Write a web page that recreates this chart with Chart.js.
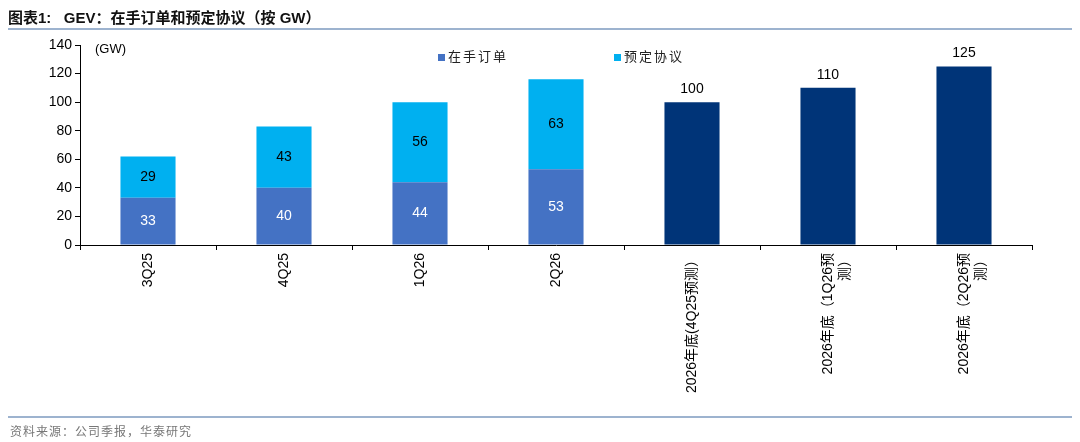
<!DOCTYPE html>
<html><head><meta charset="utf-8">
<script src="https://cdn.jsdelivr.net/npm/chart.js@4"></script>
<style>
body{margin:0;width:1080px;height:442px;position:relative;font-family:"Liberation Sans",Arial,"Noto Sans CJK SC",sans-serif;background:#fff;overflow:hidden}
#c{position:absolute;left:0;top:0}
.t{position:absolute;white-space:nowrap}
</style></head><body>
<canvas id="c" width="1080" height="442"></canvas>
<div class="t" style="left:8px;top:6px;font-size:15px;font-weight:bold;color:#111">图表1:&nbsp;&nbsp; GEV：在手订单和预定协议（按 GW）</div>
<div style="position:absolute;left:8px;right:8px;top:28px;height:2px;background:#9db3cf"></div>
<div class="t" style="left:95px;top:41px;font-size:13px;color:#000">(GW)</div>
<div class="t" style="left:438px;top:46px;font-size:13px;color:#222;letter-spacing:2px"><span style="display:inline-block;width:7px;height:7px;background:#4472C4;margin-right:3px"></span>在手订单</div>
<div class="t" style="left:614px;top:46px;font-size:13px;color:#222;letter-spacing:2px"><span style="display:inline-block;width:7px;height:7px;background:#00B0F0;margin-right:3px"></span>预定协议</div>
<div style="position:absolute;left:8px;right:8px;top:416px;height:2px;background:#9db3cf"></div>
<div class="t" style="left:10px;top:422px;font-size:12px;color:#777;letter-spacing:1px">资料来源：公司季报，华泰研究</div>
<script>
const categories=["3Q25","4Q25","1Q26","2Q26",["2026年底(4Q25预测）"],["2026年底（1Q26预","测）"],["2026年底（2Q26预","测）"]];
const backlog=[33,40,44,53,null,null,null];
const reservations=[29,43,56,63,null,null,null];
const forecast=[null,null,null,null,100,110,125];
const labelPlugin={id:'lbl',afterDatasetsDraw(ch){const c=ch.ctx;c.save();c.font='14px "Liberation Sans",Arial';c.textAlign='center';c.textBaseline='middle';
ch.data.datasets.forEach((ds,i)=>{ch.getDatasetMeta(i).data.forEach((b,j)=>{const v=ds.data[j];if(v==null)return;
if(i===2){c.fillStyle='#000';c.fillText(v,b.x,b.y-13);}else{c.fillStyle=i===0?'#fff':'#000';c.fillText(v,b.x,(b.y+b.base)/2);}});});c.restore();}};
new Chart(document.getElementById('c'),{type:'bar',
data:{labels:categories,datasets:[
{label:'在手订单',data:backlog,backgroundColor:'#4472C4'},
{label:'预定协议',data:reservations,backgroundColor:'#00B0F0'},
{label:'预测',data:forecast,backgroundColor:'#003478'}]},
options:{responsive:false,animation:false,barPercentage:0.405,categoryPercentage:1,
layout:{padding:{top:45,right:48,left:0,bottom:0}},
plugins:{legend:{display:false},tooltip:{enabled:false}},
scales:{
x:{stacked:true,afterFit(s){s.height=197;},grid:{offset:true,drawOnChartArea:false,color:'#000',tickLength:5},border:{color:'#000'},
ticks:{minRotation:90,maxRotation:90,autoSkip:false,color:'#000',font:{size:14,family:'"Liberation Sans",Arial,"Noto Sans CJK SC"'}}},
y:{stacked:true,min:0,max:140,afterFit(s){s.width=80;},grid:{drawOnChartArea:false,color:'#000',tickLength:5},border:{color:'#000'},
ticks:{stepSize:20,color:'#000',font:{size:14,family:'"Liberation Sans",Arial'}}}}},
plugins:[labelPlugin]});
</script></body></html>
